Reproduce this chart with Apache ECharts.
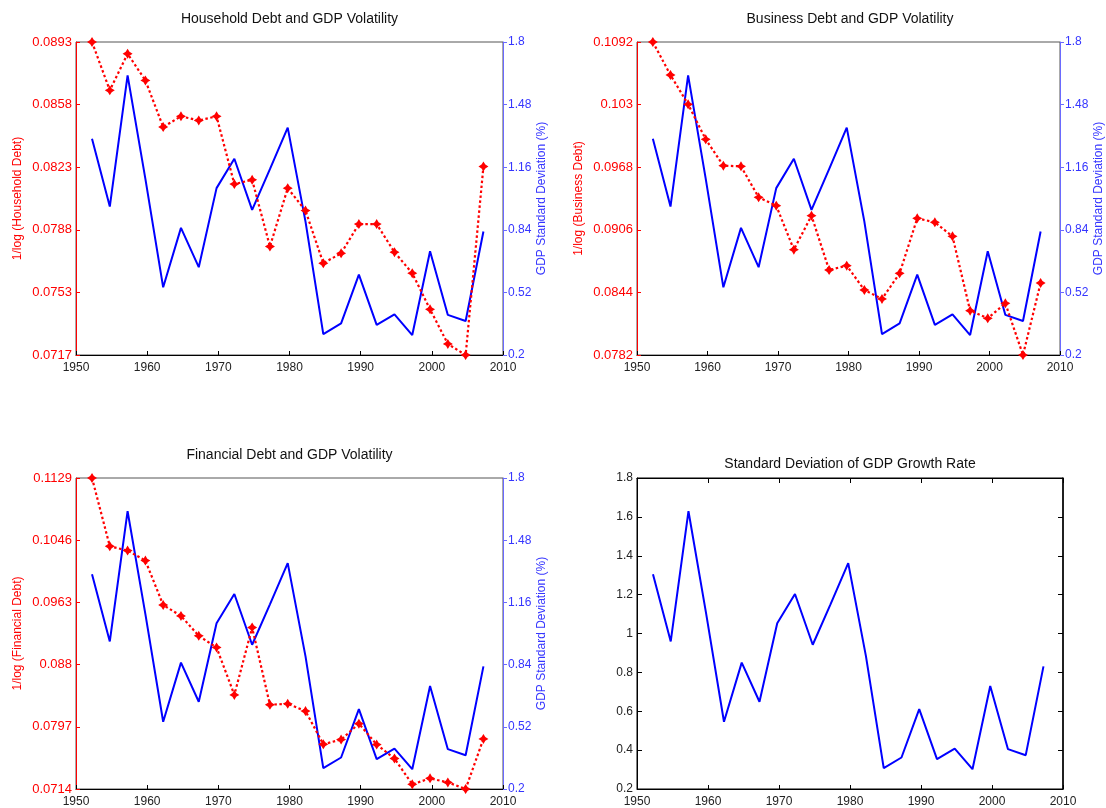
<!DOCTYPE html>
<html>
<head>
<meta charset="utf-8">
<script src="https://cdn.jsdelivr.net/npm/echarts@6/dist/echarts.min.js"></script>
<style>
html,body{margin:0;padding:0;background:#fff;}
#c{width:1106px;height:808px;}
</style>
</head>
<body>
<div id="c"></div>
<script>
// ---- data ----
const years = [1952.25, 1954.75, 1957.25, 1959.75, 1962.25, 1964.75, 1967.25, 1969.75, 1972.25, 1974.75, 1977.25, 1979.75,
               1982.25, 1984.75, 1987.25, 1989.75, 1992.25, 1994.75, 1997.25, 1999.75, 2002.25, 2004.75, 2007.25];
const gdpStd = [1.305, 0.959, 1.629, 1.10, 0.546, 0.850, 0.649, 1.053, 1.203, 0.942, 1.15, 1.362,
                0.882, 0.307, 0.362, 0.611, 0.354, 0.408, 0.302, 0.730, 0.405, 0.374, 0.831];
const householdDebt = [0.0893, 0.08658, 0.08864, 0.08714, 0.08452, 0.08512, 0.08489, 0.08512, 0.08131, 0.08155, 0.0778, 0.08108,
                       0.07982, 0.07686, 0.07742, 0.07906, 0.07906, 0.07748, 0.0763, 0.07427, 0.07232, 0.0717, 0.0823];
const businessDebt = [0.1092, 0.10593, 0.10303, 0.09956, 0.09695, 0.09689, 0.09382, 0.09299, 0.08863, 0.0920, 0.08662, 0.08705,
                      0.08464, 0.08375, 0.08629, 0.09174, 0.09134, 0.08995, 0.08259, 0.08183, 0.08332, 0.0782, 0.08533];
const financialDebt = [0.1129, 0.10379, 0.10321, 0.10188, 0.09595, 0.0945, 0.09184, 0.09029, 0.08396, 0.09295, 0.08264, 0.08277,
                       0.0818, 0.07737, 0.07799, 0.08012, 0.07733, 0.07547, 0.07202, 0.07282, 0.07228, 0.0714, 0.07808];

// tick labels
const yearTicks = ['1950', '1960', '1970', '1980', '1990', '2000', '2010'];
const householdTicks = ['0.0717', '0.0753', '0.0788', '0.0823', '0.0858', '0.0893'];
const businessTicks = ['0.0782', '0.0844', '0.0906', '0.0968', '0.103', '0.1092'];
const financialTicks = ['0.0714', '0.0797', '0.088', '0.0963', '0.1046', '0.1129'];
const gdpTicks = ['0.2', '0.52', '0.84', '1.16', '1.48', '1.8'];
const stdTicks = ['0.2', '0.4', '0.6', '0.8', '1', '1.2', '1.4', '1.6', '1.8'];

// texts
const panelTitles = ['Household Debt and GDP Volatility', 'Business Debt and GDP Volatility',
                     'Financial Debt and GDP Volatility', 'Standard Deviation of GDP Growth Rate'];
const debtNames = ['1/log (Household Debt)', '1/log (Business Debt)', '1/log (Financial Debt)'];
const gdpName = 'GDP Standard Deviation (%)';

// ---- chart construction ----
const FONT = "'Liberation Sans', Arial, Helvetica, sans-serif";
const RED = '#ff0000';
const BLUE = '#0000ff';
const BLUE_AX = '#6a6aff';
const BLUE_TX = '#3535ff';

function scaleFrom(labels) {
  const min = +labels[0], max = +labels[labels.length - 1];
  const interval = (max - min) / (labels.length - 1);
  return {
    min: min, max: max, interval: interval,
    fmt: function (v) {
      const i = Math.round((v - min) / interval);
      return labels[i] !== undefined ? labels[i] : '';
    }
  };
}
function pairs(xs, ys) { return xs.map(function (x, i) { return [x, ys[i]]; }); }

const grids = [
  {left: 76, top: 42, width: 427, height: 313},
  {left: 637, top: 42, width: 426, height: 313},
  {left: 76, top: 478, width: 427, height: 313},
  {left: 637, top: 478, width: 426, height: 313}
];
const titleTops = [12, 12, 448, 457];

const xs = scaleFrom(yearTicks);
const gs = scaleFrom(gdpTicks);
const ss = scaleFrom(stdTicks);
const debtScales = [scaleFrom(householdTicks), scaleFrom(businessTicks), scaleFrom(financialTicks)];
const debtData = [householdDebt, businessDebt, financialDebt];

const option = {
  backgroundColor: '#ffffff',
  animation: false,
  title: [],
  grid: [],
  xAxis: [],
  yAxis: [],
  series: []
};

const markerPath = 'path://M0,-5 L1.9,-1.9 L5,0 L1.9,1.9 L0,5 L-1.9,1.9 L-5,0 L-1.9,-1.9 Z';

grids.forEach(function (g, i) {
  option.grid.push(Object.assign({
    show: true, borderColor: i === 3 ? '#000' : '#555', borderWidth: 1, backgroundColor: 'transparent',
    containLabel: false
  }, g));
  option.title.push({
    text: panelTitles[i],
    left: g.left + g.width / 2, top: titleTops[i], textAlign: 'center', padding: 0,
    textStyle: {fontFamily: FONT, fontSize: 14, fontWeight: 'normal', color: '#111'}
  });
  option.xAxis.push({
    type: 'value', gridIndex: i, position: 'bottom',
    min: xs.min, max: xs.max, interval: xs.interval,
    axisLine: {show: true, onZero: false, lineStyle: {color: '#000', width: 1}},
    axisTick: {show: true, inside: true, length: 4, lineStyle: {color: '#000'}},
    axisLabel: {formatter: xs.fmt, color: '#222', fontFamily: FONT, fontSize: 12, margin: 7},
    splitLine: {show: false}
  });
});

// three dual-axis panels
for (let i = 0; i < 3; i++) {
  const ds = debtScales[i];
  const left = option.yAxis.length;
  option.yAxis.push({
    type: 'value', gridIndex: i, position: 'left',
    min: ds.min, max: ds.max, interval: ds.interval,
    name: debtNames[i], nameLocation: 'middle', nameRotate: 90, nameGap: 52,
    nameTextStyle: {color: RED, fontFamily: FONT, fontSize: 12},
    axisLine: {show: true, onZero: false, lineStyle: {color: RED, width: 1}},
    axisTick: {show: true, inside: true, length: 4, lineStyle: {color: RED}},
    axisLabel: {formatter: ds.fmt, color: RED, fontFamily: FONT, fontSize: 13, margin: 4},
    splitLine: {show: false}
  });
  const right = option.yAxis.length;
  option.yAxis.push({
    type: 'value', gridIndex: i, position: 'right',
    min: gs.min, max: gs.max, interval: gs.interval,
    name: gdpName, nameLocation: 'middle', nameRotate: 90, nameGap: 33,
    nameTextStyle: {color: BLUE_TX, fontFamily: FONT, fontSize: 12},
    axisLine: {show: true, onZero: false, lineStyle: {color: BLUE_AX, width: 1}},
    axisTick: {show: true, inside: false, length: 4, lineStyle: {color: BLUE_AX}},
    axisLabel: {formatter: gs.fmt, color: BLUE_TX, fontFamily: FONT, fontSize: 12, margin: 5},
    splitLine: {show: false}
  });
  option.series.push({
    type: 'line', xAxisIndex: i, yAxisIndex: right, data: pairs(years, gdpStd),
    showSymbol: false, symbol: 'none', lineStyle: {color: BLUE, width: 2}, z: 2
  });
  option.series.push({
    type: 'line', xAxisIndex: i, yAxisIndex: left, data: pairs(years, debtData[i]),
    symbol: markerPath, symbolSize: 10, itemStyle: {color: RED},
    lineStyle: {color: RED, width: 2.2, type: [2.5, 2.5]}, z: 3
  });
}

// fourth panel: single axis, boxed with inward ticks
const y4 = option.yAxis.length;
option.yAxis.push({
  type: 'value', gridIndex: 3, position: 'left',
  min: ss.min, max: ss.max, interval: ss.interval,
  axisLine: {show: true, onZero: false, lineStyle: {color: '#000', width: 1}},
  axisTick: {show: true, inside: true, length: 5, lineStyle: {color: '#000'}},
  axisLabel: {formatter: ss.fmt, color: '#222', fontFamily: FONT, fontSize: 12, margin: 4},
  splitLine: {show: false}
});
option.yAxis.push({
  type: 'value', gridIndex: 3, position: 'right',
  min: ss.min, max: ss.max, interval: ss.interval,
  axisLine: {show: true, onZero: false, lineStyle: {color: '#000', width: 1.5}},
  axisTick: {show: true, inside: true, length: 5, lineStyle: {color: '#000'}},
  axisLabel: {show: false},
  splitLine: {show: false}
});
option.xAxis.push({
  type: 'value', gridIndex: 3, position: 'top',
  min: xs.min, max: xs.max, interval: xs.interval,
  axisLine: {show: true, onZero: false, lineStyle: {color: '#000', width: 1}},
  axisTick: {show: true, inside: true, length: 5, lineStyle: {color: '#000'}},
  axisLabel: {show: false},
  splitLine: {show: false}
});
option.series.push({
  type: 'line', xAxisIndex: 3, yAxisIndex: y4, data: pairs(years, gdpStd),
  showSymbol: false, symbol: 'none', lineStyle: {color: BLUE, width: 2}
});

const chart = echarts.init(document.getElementById('c'), null, {renderer: 'canvas'});
chart.setOption(option);
</script>
</body>
</html>
